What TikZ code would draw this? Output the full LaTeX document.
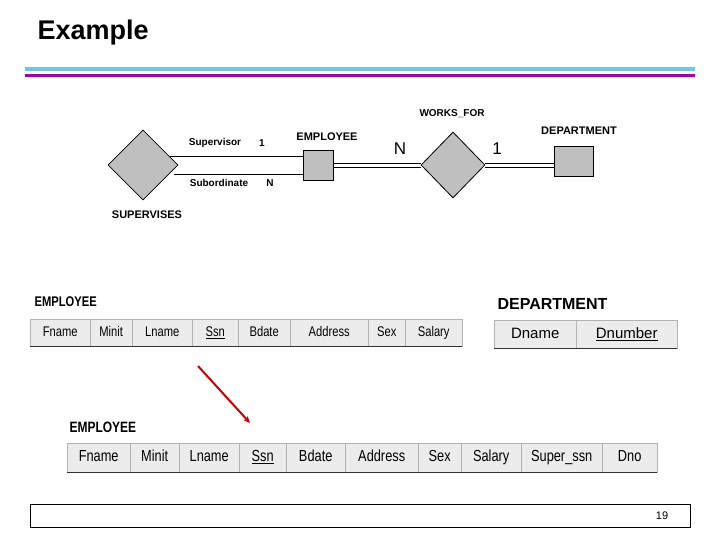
\documentclass[tikz,border=0pt]{standalone}
\usepackage{fontspec}
\setmainfont{Liberation Sans}
\usetikzlibrary{shapes.geometric,arrows.meta}
\begin{document}
\begin{tikzpicture}[x=1pt,y=-1pt,
  ent/.style={draw,thick,fill=gray!50,minimum width=30pt,minimum height=30pt,inner sep=0},
  rel/.style={draw,thick,fill=gray!50,diamond,minimum width=70pt,minimum height=70pt,inner sep=0},
  lbl/.style={font=\bfseries\fontsize{10}{11}\selectfont},
  cell/.style={draw=gray!60,fill=gray!15,inner sep=0,text height=10pt,text depth=3pt,font=\fontsize{14}{15}\selectfont\addfontfeatures{FakeStretch=0.8}},
  cellb/.style={draw=gray!60,fill=gray!15,text height=11pt,text depth=3pt,font=\fontsize{15}{16}\selectfont},
  tlab/.style={font=\bfseries\fontsize{14}{15}\selectfont\addfontfeatures{FakeStretch=0.8},anchor=west}]
\useasboundingbox (0,0) rectangle (720,540);
\node[anchor=west,font=\bfseries\fontsize{27}{29}\selectfont] (title) at (34,33) {Example};
\draw[line width=4pt,cyan!75!teal!60] (25,69) -- (695,69);
\draw[line width=3pt,violet!70!magenta] (25,76) -- (695,76);
% ER
\node[rel] (sup) at (143,165) {};
\node[ent] (emp) at (318,165) {};
\node[rel,minimum width=64pt,minimum height=66pt] (wf) at (453,165) {};
\node[ent,minimum width=39pt] (dep) at (574,161) {};
\draw[thick] ([yshift=-9pt]sup.east) ++(-4,0) coordinate (s1) -- (s1 -| emp.west);
\draw[thick] ([yshift=9pt]sup.east) ++(-8,0) coordinate (s2) -- (s2 -| emp.west);
\draw[thick] ([yshift=-2pt]emp.east) -- ([yshift=-2pt]wf.west);
\draw[thick] ([yshift=2pt]emp.east) -- ([yshift=2pt]wf.west);
\draw[thick] ([yshift=-2pt]wf.east) coordinate (w1) -- (w1 -| dep.west);
\draw[thick] ([yshift=2pt]wf.east) coordinate (w2) -- (w2 -| dep.west);
\node[lbl] (t1) at (452,114) {WORKS\_FOR};
\node[lbl] (t2) at (215,143) {Supervisor};
\node[lbl] (t3) at (262,143) {1};
\node[lbl] (t4) at (219,183) {Subordinate};
\node[lbl] (t5) at (270,183) {N};
\node[lbl,font=\bfseries\fontsize{11}{12}\selectfont] (t6) at (327,137) {EMPLOYEE};
\node[font=\fontsize{17}{18}\selectfont] (t7) at (400,149) {N};
\node[font=\fontsize{17}{18}\selectfont] (t8) at (497,149) {1};
\node[lbl,font=\bfseries\fontsize{11}{12}\selectfont] (t9) at (579,131) {DEPARTMENT};
\node[lbl,font=\bfseries\fontsize{11}{12}\selectfont] (t10) at (147,215) {SUPERVISES};
% tables
\node[tlab] (l1) at (31,302) {EMPLOYEE};
\foreach \a/\b/\t [count=\i] in {30/90/Fname,90/132/Minit,132/192/Lname,192/238/\underline{Ssn},238/290/Bdate,290/368/Address,368/405/Sex,405/462/Salary}
  \node[cell,minimum width=\b pt-\a pt,minimum height=27pt,anchor=north west] (a\i) at (\a,319) {\t};
\draw[thick,gray!40!black] (a1.south west) -- (a8.south east);
\node[font=\bfseries\fontsize{16}{17}\selectfont,anchor=west] (l2) at (494,304) {DEPARTMENT};
\node[cellb,minimum width=82pt,minimum height=28pt,anchor=north west] (d1) at (494,320) {Dname};
\node[cellb,minimum width=101pt,minimum height=28pt,anchor=north west] (d2) at (576,320) {\underline{Dnumber}};
\draw[thick,gray!40!black] (d1.south west) -- (d2.south east);
\node[tlab,font=\bfseries\fontsize{15}{16}\selectfont\addfontfeatures{FakeStretch=0.8}] (l3) at (66,427) {EMPLOYEE};
\foreach \a/\b/\t [count=\i] in {67/130/Fname,130/179/Minit,179/239/Lname,239/286/\underline{Ssn},286/345/Bdate,345/418/Address,418/461/Sex,461/521/Salary,521/602/Super\_ssn,602/657/Dno}
  \node[cell,text height=11pt,text depth=4pt,font=\fontsize{16}{17}\selectfont\addfontfeatures{FakeStretch=0.8},minimum width=\b pt-\a pt,minimum height=29pt,anchor=north west] (b\i) at (\a,443) {\t};
\draw[thick,gray!40!black] (b1.south west) -- (b10.south east);
\coordinate (r1) at (198,366);
\coordinate (r2) at (250,423);
\draw[red!80!black,line width=2pt,-{Stealth[length=7pt,width=6pt]}] (r1) -- (r2);
\draw (30,504) rectangle (690,527);
\node[font=\fontsize{11}{12}\selectfont] (pg) at (662,516) {19};
\end{tikzpicture}
\end{document}
